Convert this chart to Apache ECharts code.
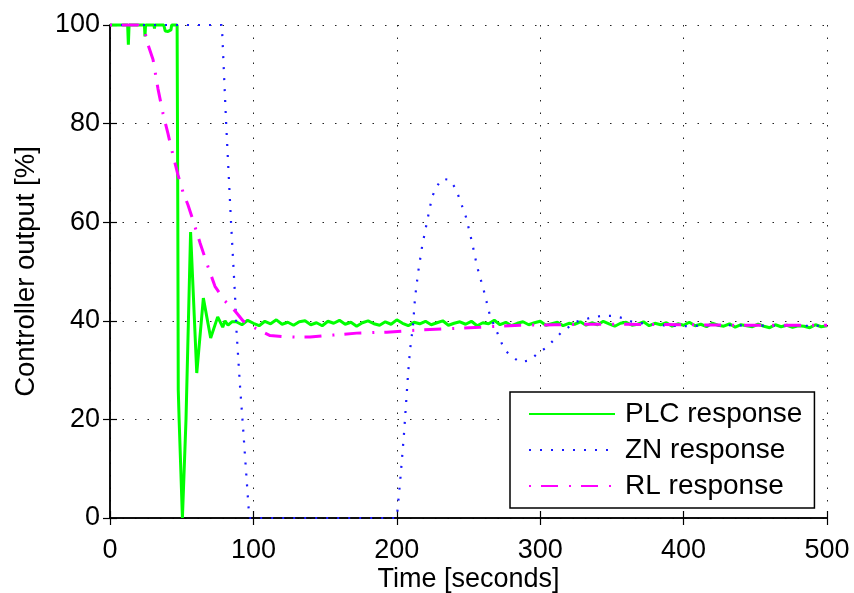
<!DOCTYPE html>
<html>
<head>
<meta charset="utf-8">
<script src="https://cdn.jsdelivr.net/npm/echarts@6/dist/echarts.min.js"></script>
<style>
html,body{margin:0;padding:0;background:#fff;}
#chart{width:854px;height:593px;}
</style>
</head>
<body>
<div id="chart"></div>
<script>
// ---- Data ----
const xTicks = [0, 100, 200, 300, 400, 500];
const yTicks = [0, 20, 40, 60, 80, 100];

const seriesNames = ['PLC response', 'ZN response', 'RL response'];

// PLC response: transient part
const plcTime = [0, 12.3, 12.8, 13.3, 24, 24.4, 24.8, 30.7, 31, 31.3, 37.5, 38.5, 39.5, 40.5, 41.5, 42.5, 43, 46.8, 47.3, 47.6, 48.2, 50.5, 51.5, 53, 56.2, 60.5, 65.1, 70.2, 75.1, 78.6, 80.2, 82.3, 85];
const plcValue = [100, 100, 96, 100, 100, 97.7, 100, 100, 99.3, 100, 100, 98.8, 98.4, 98.7, 98.5, 99, 100, 100, 60, 26, 20, 0, 0, 20, 58, 29.4, 44.6, 36.5, 40.8, 38.7, 40, 39.1, 39.8];

// PLC response: steady noisy part (times 88..500)
const plcNoiseTime = [88,92,96,100,104,108,112,116,120,124,128,132,136,140,144,148,152,156,160,164,168,172,176,180,184,188,192,196,200,204,208,212,216,220,224,228,232,236,240,244,248,252,256,260,264,268,272,276,280,284,288,292,296,300,304,308,312,316,320,324,328,332,336,340,344,348,352,356,360,364,368,372,376,380,384,388,392,396,400,404,408,412,416,420,424,428,432,436,440,444,448,452,456,460,464,468,472,476,480,484,488,492,496,500];
const plcNoiseValue = [
39.8,39.2,40.1,39.5,39.0,39.9,39.4,40.2,39.3,39.7,
39.1,39.8,40.0,39.2,39.6,39.0,39.9,39.5,40.1,39.3,
39.7,38.9,39.6,40.0,39.4,39.1,39.8,39.3,40.2,39.5,
39.0,39.7,39.4,39.9,39.2,39.6,40.0,39.1,39.5,39.8,
39.3,39.9,39.0,39.6,39.4,40.1,39.2,39.7,39.0,39.5,
39.8,39.2,39.6,39.9,39.1,39.4,39.7,39.0,39.5,39.3,
39.8,39.1,39.6,39.2,39.9,39.4,38.9,39.5,39.7,39.1,
39.3,39.8,39.0,39.5,39.2,39.6,38.9,39.4,39.1,39.7,
39.0,39.3,38.8,39.5,39.1,38.9,39.4,38.7,39.2,39.0,
38.8,39.3,38.9,38.6,39.2,38.8,39.1,38.7,39.0,38.9,
38.6,39.2,38.8,39.0];

// ZN response
const znTime = [0, 78, 81, 84.4, 87.2, 88.2, 90.7, 92.7, 95, 97, 97.6, 200, 202.5, 205, 207.8, 209.2, 211.3, 212.7, 214.8, 217.6, 221, 224.5, 227.3, 231.5, 237, 241.3, 244, 248.3, 252.4, 256, 260.8, 265, 268.5, 274.8, 279, 286, 293, 298.5, 304, 315, 325, 335, 343, 350, 357, 364, 373, 383, 400, 430, 460, 500];
const znValue = [100, 100, 80, 60, 45, 38, 26.6, 18.7, 9, 0.6, 0, 0, 8, 17, 29, 34, 39, 44.6, 49.7, 55, 60, 65, 67, 68.8, 68.6, 66.7, 64.5, 61, 56, 51, 46, 41, 38.7, 34.3, 33, 31.6, 32, 33.5, 34.5, 37.7, 39.8, 40.6, 41, 41, 40.6, 39.8, 39.4, 39.1, 38.9, 39.1, 39.0, 39.0];

// RL response
const rlTime = [0, 8, 19.5, 24.4, 26.5, 30, 33.5, 37, 40.4, 44, 47.4, 51, 54.4, 57.2, 62.8, 68.3, 73.2, 80.2, 87.2, 92.7, 98, 104.6, 111.6, 120, 129, 139.5, 155.5, 172, 193, 214, 236, 258, 286, 310, 333, 360, 400, 440, 481, 500];
const rlValue = [100, 100, 100, 98.5, 96, 93, 87, 82, 78, 73.5, 69.6, 66, 63.5, 61, 55.8, 51, 47, 44, 42, 40, 39, 38, 37, 36.8, 36.7, 36.7, 37.1, 37.5, 37.7, 38.1, 38.4, 38.7, 39.1, 39.2, 39.3, 39.3, 39.2, 39.1, 39.1, 39.1];

// ---- Build ----
const zip = (a, b) => a.map((t, i) => [t, b[i]]);
const plcData = zip(plcTime, plcValue).concat(zip(plcNoiseTime, plcNoiseValue));
const znData = zip(znTime, znValue);
const rlData = zip(rlTime, rlValue);

const FONT = 'Liberation Sans, Arial, sans-serif';
const axisLine = { show: true, lineStyle: { color: '#000', width: 1.5 } };
const tickIn = { show: true, inside: true, length: 7, lineStyle: { color: '#000', width: 1.2 } };
const gridDots = { show: true, lineStyle: { color: '#222', width: 1, type: [1.5, 11] } };

const chart = echarts.init(document.getElementById('chart'), null, { renderer: 'canvas' });
chart.setOption({
  animation: false,
  backgroundColor: '#fff',
  grid: { left: 110, right: 27, top: 25, bottom: 75, containLabel: false, outerBoundsMode: 'none' },
  xAxis: [
    {
      type: 'value', position: 'bottom', min: xTicks[0], max: xTicks[xTicks.length - 1], interval: 100,
      name: 'Time [seconds]', nameLocation: 'middle', nameGap: 48, nameMoveOverlap: false,
      nameTextStyle: { fontFamily: FONT, fontSize: 27, color: '#000' },
      axisLine: axisLine, axisTick: tickIn, splitLine: gridDots,
      axisLabel: { fontFamily: FONT, fontSize: 27, color: '#000', margin: 19 }
    },
    {
      type: 'value', position: 'top', min: xTicks[0], max: xTicks[xTicks.length - 1], interval: 100,
      axisLine: axisLine, axisTick: tickIn, splitLine: { show: false }, axisLabel: { show: false }
    }
  ],
  yAxis: [
    {
      type: 'value', position: 'left', min: yTicks[0], max: yTicks[yTicks.length - 1], interval: 20,
      name: 'Controller output [%]', nameLocation: 'middle', nameGap: 70, nameRotate: 90, nameMoveOverlap: false,
      nameTextStyle: { fontFamily: FONT, fontSize: 27.5, color: '#000' },
      axisLine: axisLine, axisTick: tickIn, splitLine: gridDots,
      axisLabel: { fontFamily: FONT, fontSize: 27, color: '#000', margin: 10, padding: [5, 0, 0, 0] }
    },
    {
      type: 'value', position: 'right', min: yTicks[0], max: yTicks[yTicks.length - 1], interval: 20,
      axisLine: axisLine, axisTick: tickIn, splitLine: { show: false }, axisLabel: { show: false }
    }
  ],
  legend: {
    orient: 'vertical', left: 510, top: 392,
    backgroundColor: '#fff', borderColor: '#000', borderWidth: 1.5, borderRadius: 0,
    padding: [8, 12, 8, 18], itemGap: 8, itemWidth: 86, itemHeight: 14,
    itemStyle: { color: 'rgba(0,0,0,0)', opacity: 0, borderWidth: 0 },
    textStyle: { fontFamily: FONT, fontSize: 28, color: '#000', padding: [0, 0, 0, 5] },
    data: seriesNames
  },
  series: [
    {
      name: seriesNames[0], type: 'line', data: plcData, symbol: 'none', clip: false,
      lineStyle: { color: '#00ff00', width: 3 }, itemStyle: { color: '#00ff00' }
    },
    {
      name: seriesNames[1], type: 'line', data: znData, symbol: 'none', clip: false,
      lineStyle: { color: '#1a1aff', width: 2.2, type: [2, 9] }, itemStyle: { color: '#1a1aff' }
    },
    {
      name: seriesNames[2], type: 'line', data: rlData, symbol: 'none', clip: false,
      lineStyle: { color: '#ff00ff', width: 3, type: [2, 10, 17, 11] }, itemStyle: { color: '#ff00ff' }
    }
  ]
});
</script>
</body>
</html>
